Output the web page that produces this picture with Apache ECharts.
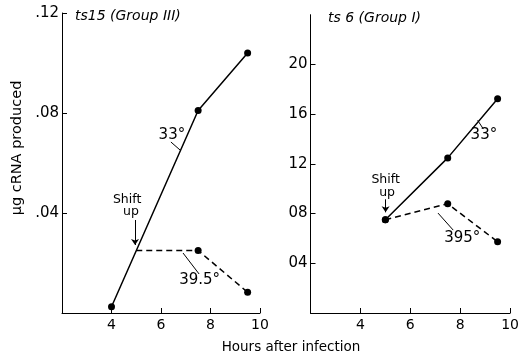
<!DOCTYPE html>
<html><head><meta charset="utf-8">
<script src="https://cdn.jsdelivr.net/npm/echarts@6/dist/echarts.min.js"></script>
<style>html,body{margin:0;padding:0;background:#fff}#c{width:522px;height:356px}</style>
</head><body><div id="c"></div>
<script>
// Left panel: ts15 (Group III)
const hoursLeft33 = [4, 7.5, 9.5];
const rnaLeft33 = [0.0025, 0.081, 0.104];
const hoursLeft395 = [5, 7.5, 9.5];
const rnaLeft395 = [0.025, 0.025, 0.0083];
// Right panel: ts 6 (Group I)
const hoursRight33 = [5, 7.5, 9.5];
const rnaRight33 = [0.075, 0.1248, 0.1723];
const hoursRight395 = [5, 7.5, 9.5];
const rnaRight395 = [0.075, 0.0879, 0.0573];
// tick values
const xTicks = [4, 6, 8, 10];
const yTicksLeft = [0.04, 0.08, 0.12];
const yTicksRight = [0.04, 0.08, 0.12, 0.16, 0.20];
// annotations (data coordinates)
const annLeft = [
  {value:[6.44,0.0712], name:'33°', big:true},
  {value:[4.63,0.0452], name:'Shift'},
  {value:[4.79,0.0404], name:'up'},
  {value:[7.56,0.0130], name:'39.5°', big:true}
];
const annRight = [
  {value:[8.95,0.1433], name:'33°', big:true},
  {value:[5.01,0.1070], name:'Shift'},
  {value:[5.07,0.0970], name:'up'},
  {value:[8.08,0.0602], name:'395°', big:true}
];
const leadersLeft = [[[6.40,0.0684],[6.77,0.0652]], [[6.89,0.0240],[7.54,0.0156]]];
const leadersRight = [[[8.70,0.1550],[8.93,0.1480]], [[7.11,0.0804],[7.72,0.0667]]];
const arrowLeft = [[4.95,0.0372],[4.95,0.0272]];
const arrowRight = [[5.01,0.0915],[5.01,0.0810]];

const FONT = 'DejaVu Sans';
const zip = (a,b) => a.map((v,i)=>[v,b[i]]);
function xAxisCfg(gi){
  return {type:'value', gridIndex:gi, min:2, max:10, interval:2,
    axisLine:{show:true, onZero:false, lineStyle:{color:'#000', width:1}},
    axisTick:{show:true, inside:true, length:5, customValues:xTicks, lineStyle:{color:'#000'}},
    axisLabel:{show:true, customValues:xTicks, margin:5, color:'#000', fontSize:14, fontFamily:FONT},
    splitLine:{show:false}};
}
function yAxisCfg(gi, max, ticks, fmt){
  return {type:'value', gridIndex:gi, min:0, max:max, interval:0.04,
    axisLine:{show:true, onZero:false, lineStyle:{color:'#000', width:1}},
    axisTick:{show:true, inside:true, length:5, customValues:ticks, lineStyle:{color:'#000'}},
    axisLabel:{show:true, customValues:ticks, margin:3, color:'#000', fontSize:15, fontFamily:FONT, formatter:fmt},
    splitLine:{show:false}};
}
const dot = {symbol:'circle', symbolSize:7, itemStyle:{color:'#000'}};
const series = [
  Object.assign({type:'line', xAxisIndex:0, yAxisIndex:0, data:zip(hoursLeft33,rnaLeft33),
    lineStyle:{color:'#000', width:1.5}, z:3}, dot),
  {type:'line', xAxisIndex:0, yAxisIndex:0,
    data:zip(hoursLeft395,rnaLeft395).map((p,i)=>({value:p, symbolSize: i===0?0:7})),
    symbol:'circle', itemStyle:{color:'#000'},
    lineStyle:{color:'#000', width:1.5, type:[6,4]}, z:3},
  Object.assign({type:'line', xAxisIndex:1, yAxisIndex:1, data:zip(hoursRight33,rnaRight33),
    lineStyle:{color:'#000', width:1.5}, z:3}, dot),
  Object.assign({type:'line', xAxisIndex:1, yAxisIndex:1, data:zip(hoursRight395,rnaRight395),
    lineStyle:{color:'#000', width:1.5, type:[6,4]}, z:3}, dot)
];
[[0,leadersLeft],[1,leadersRight]].forEach(([gi,ls])=>{
  ls.forEach(seg=>series.push({type:'line', xAxisIndex:gi, yAxisIndex:gi, data:seg, showSymbol:false,
    symbol:'none', lineStyle:{color:'#000', width:1}, silent:true}));
});
[[0,arrowLeft],[1,arrowRight]].forEach(([gi,a])=>{
  series.push({type:'lines', coordinateSystem:'cartesian2d', xAxisIndex:gi, yAxisIndex:gi,
    symbol:['none','arrow'], symbolSize:6, silent:true,
    lineStyle:{color:'#000', width:1, opacity:1}, data:[{coords:a}]});
});
[[0,annLeft],[1,annRight]].forEach(([gi,ann])=>{
  series.push({type:'scatter', xAxisIndex:gi, yAxisIndex:gi,
    data:ann.map(a=>({value:a.value, name:a.name, label:{fontSize: a.big?15:12.5}})),
    symbolSize:1, itemStyle:{color:'#fff', opacity:0}, silent:true,
    label:{show:true, position:'inside', formatter:'{b}', color:'#000', fontFamily:FONT,
      textBorderWidth:0, opacity:1}});
});
const chart = echarts.init(document.getElementById('c'), null, {renderer:'canvas'});
chart.setOption({
  animation:false,
  backgroundColor:'#fff',
  grid:[{left:62, top:13, width:198, height:300},
        {left:310.5, top:14.7, width:200, height:298.3}],
  xAxis:[xAxisCfg(0), xAxisCfg(1)],
  yAxis:[yAxisCfg(0, 0.12, yTicksLeft, v=>'.'+String(Math.round(v*100)).padStart(2,'0')),
         yAxisCfg(1, 0.24, yTicksRight, v=>String(Math.round(v*100)).padStart(2,'0'))],
  title:[
    {text:'ts15 (Group III)', left:70, top:4, textStyle:{fontFamily:FONT, fontSize:14, fontStyle:'italic', fontWeight:'normal', color:'#000'}},
    {text:'ts 6 (Group I)', left:323, top:6, textStyle:{fontFamily:FONT, fontSize:14, fontStyle:'italic', fontWeight:'normal', color:'#000'}}
  ],
  graphic:[
    {type:'text', x:17, y:148, rotation:Math.PI/2, style:{text:'μg cRNA produced', fontFamily:FONT, fontSize:14.5, fill:'#000', textAlign:'center', textVerticalAlign:'middle'}},
    {type:'text', x:291, y:347, style:{text:'Hours after infection', fontFamily:FONT, fontSize:13.5, fill:'#000', textAlign:'center', textVerticalAlign:'middle'}}
  ],
  series: series
});
</script></body></html>
